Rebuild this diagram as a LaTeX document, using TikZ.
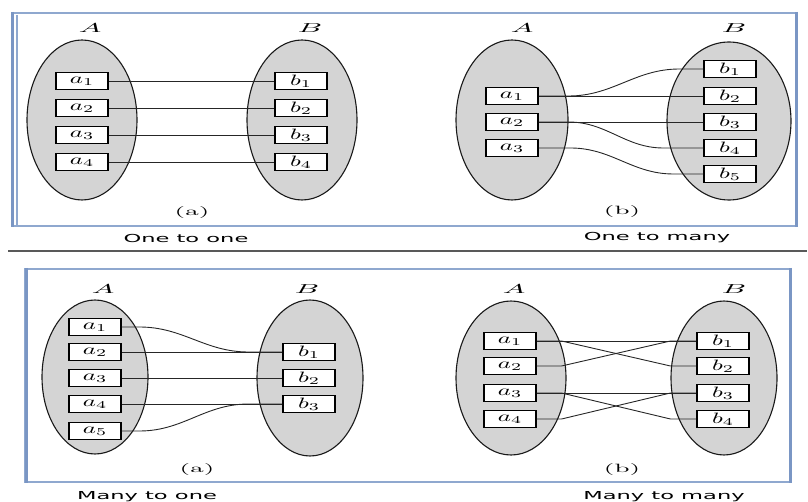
\documentclass[tikz,border=0pt]{standalone}
\usepackage{fontspec}
\newfontfamily\capfont{DejaVu Sans}
\usetikzlibrary{shapes.geometric,calc}
\definecolor{frameblue}{HTML}{8FA8CF}
\definecolor{framedark}{HTML}{7A96C4}
\definecolor{setgray}{HTML}{D4D4D4}
\newcommand{\elt}[1]{\scalebox{2.5}[1.5]{$#1$}}
\newcommand{\setlab}[1]{\scalebox{3.0}[1.3]{$#1$}}
\newcommand{\partlab}[1]{\scalebox{2.7}[1.2]{#1}}
\newcommand{\captxt}[1]{\capfont\fontsize{11}{12}\selectfont\scalebox{2.05}[1]{#1}}
\begin{document}
\begin{tikzpicture}[x=1pt,y=-1pt,
  setell/.style={ellipse, draw=black!90, fill=setgray, line width=1.1pt, inner sep=0pt},
  elem/.style={draw=black, fill=white, line width=1.1pt, minimum width=52pt, minimum height=17pt, inner sep=0pt},
  link/.style={draw=black!85, line width=0.9pt},
  lab/.style={inner sep=0pt},
  frame/.style={draw=frameblue, line width=1.6pt},
  sideband/.style={draw=framedark, line width=3pt},
  sep/.style={draw=black!65, line width=1.6pt}]
\useasboundingbox (0,0) rectangle (808,502);

% ---------- frames ----------
\draw[frame] (13,13) rectangle (797,226);
\draw[sideband] (12.5,12) -- (12.5,227);
\draw[draw=frameblue, line width=1.2pt] (17,15) -- (17,225);
\draw[sideband] (796,12) -- (796,227);
\draw[sep] (8,251) -- (807,251);
\draw[frame] (25,269) rectangle (791,482);
\draw[sideband] (26.5,268) -- (26.5,483);
\draw[sideband] (790,268) -- (790,483);

% ---------- panel 1: one to one ----------
\node[setell, minimum width=110pt, minimum height=160pt] (PA) at (82,120) {};
\node[setell, minimum width=110pt, minimum height=160pt] (PB) at (302,120) {};
\node[lab] (PAl) at (90,28) {\setlab{A}};
\node[lab] (PBl) at (310,28) {\setlab{B}};
\node[elem] (pa1) at (82,81) {\elt{a_1}};
\node[elem] (pa2) at (82,108) {\elt{a_2}};
\node[elem] (pa3) at (82,135) {\elt{a_3}};
\node[elem] (pa4) at (82,162) {\elt{a_4}};
\node[elem] (pb1) at (301,81) {\elt{b_1}};
\node[elem] (pb2) at (301,108) {\elt{b_2}};
\node[elem] (pb3) at (301,135) {\elt{b_3}};
\node[elem] (pb4) at (301,162) {\elt{b_4}};
\draw[link] (pa1.east) -- (pb1.west);
\draw[link] (pa2.east) -- (pb2.west);
\draw[link] (pa3.east) -- (pb3.west);
\draw[link] (pa4.east) -- (pb4.west);
\node[lab] (Pcap) at (192,213) {\partlab{(a)}};
\node[lab] (Ptxt) at (186,238) {\captxt{One to one}};

% ---------- panel 2: one to many ----------
\node[setell, minimum width=112pt, minimum height=160pt] (QA) at (512,120) {};
\node[setell, minimum width=124pt, minimum height=158pt] (QB) at (729,121) {};
\node[lab] (QAl) at (522,28) {\setlab{A}};
\node[lab] (QBl) at (734,28) {\setlab{B}};
\node[elem] (qa1) at (512,96) {\elt{a_1}};
\node[elem] (qa2) at (512,122) {\elt{a_2}};
\node[elem] (qa3) at (512,148) {\elt{a_3}};
\node[elem] (qb1) at (730,69) {\elt{b_1}};
\node[elem] (qb2) at (730,96) {\elt{b_2}};
\node[elem] (qb3) at (730,122) {\elt{b_3}};
\node[elem] (qb4) at (730,148) {\elt{b_4}};
\node[elem] (qb5) at (730,174) {\elt{b_5}};
\draw[link] (qa1.east) -- ++(30,0) to[out=0,in=180] ($(qb1.west)+(-24,0)$) -- (qb1.west);
\draw[link] (qa1.east) -- (qb2.west);
\draw[link] (qa2.east) -- (qb3.west);
\draw[link] (qa2.east) -- ++(30,0) to[out=0,in=180] ($(qb4.west)+(-40,0)$) -- (qb4.west);
\draw[link] (qa3.east) -- ++(32,0) to[out=0,in=180] ($(qb5.west)+(-30,0)$) -- (qb5.west);
\node[lab] (Qcap) at (622,212) {\partlab{(b)}};
\node[lab] (Qtxt) at (657,238) {\captxt{One to many}};

% ---------- panel 3: many to one ----------
\node[setell, minimum width=106pt, minimum height=154pt] (RA) at (95,377) {};
\node[setell, minimum width=106pt, minimum height=156pt] (RB) at (310,378) {};
\node[lab] (RAl) at (103,289) {\setlab{A}};
\node[lab] (RBl) at (307,289) {\setlab{B}};
\node[elem] (ra1) at (95,327) {\elt{a_1}};
\node[elem] (ra2) at (95,352) {\elt{a_2}};
\node[elem] (ra3) at (95,378) {\elt{a_3}};
\node[elem] (ra4) at (95,404) {\elt{a_4}};
\node[elem] (ra5) at (95,431) {\elt{a_5}};
\node[elem] (rb1) at (309,352) {\elt{b_1}};
\node[elem] (rb2) at (309,378) {\elt{b_2}};
\node[elem] (rb3) at (309,404) {\elt{b_3}};
\draw[link] (ra1.east) -- ++(18,0) to[out=0,in=180] ($(rb1.west)+(-34,0)$) -- (rb1.west);
\draw[link] (ra2.east) -- (rb1.west);
\draw[link] (ra3.east) -- (rb2.west);
\draw[link] (ra4.east) -- (rb3.west);
\draw[link] (ra5.east) -- ++(18,0) to[out=0,in=180] ($(rb3.west)+(-34,0)$) -- (rb3.west);
\node[lab] (Rcap) at (197,469) {\partlab{(a)}};
\node[lab] (Rtxt) at (147,497) {\captxt{Many to one}};

% ---------- panel 4: many to many ----------
\node[setell, minimum width=110pt, minimum height=154pt] (SA) at (511,378) {};
\node[setell, minimum width=106pt, minimum height=154pt] (SB) at (724,378) {};
\node[lab] (SAl) at (514,289) {\setlab{A}};
\node[lab] (SBl) at (734,289) {\setlab{B}};
\node[elem] (sa1) at (510,341) {\elt{a_1}};
\node[elem] (sa2) at (510,366) {\elt{a_2}};
\node[elem] (sa3) at (510,393) {\elt{a_3}};
\node[elem] (sa4) at (510,419) {\elt{a_4}};
\node[elem] (sb1) at (723,341) {\elt{b_1}};
\node[elem] (sb2) at (723,366) {\elt{b_2}};
\node[elem] (sb3) at (723,393) {\elt{b_3}};
\node[elem] (sb4) at (723,419) {\elt{b_4}};
\draw[link] (sa1.east) -- (sb1.west);
\draw[link] (sa1.east) -- ++(25,0) -- ($(sb2.west)+(-26,0)$) -- (sb2.west);
\draw[link] (sa2.east) -- ++(25,0) -- ($(sb1.west)+(-26,0)$) -- (sb1.west);
\draw[link] (sa3.east) -- (sb3.west);
\draw[link] (sa3.east) -- ++(25,0) -- ($(sb4.west)+(-26,0)$) -- (sb4.west);
\draw[link] (sa4.east) -- ++(25,0) -- ($(sb3.west)+(-26,0)$) -- (sb3.west);
\node[lab] (Scap) at (622,469) {\partlab{(b)}};
\node[lab] (Stxt) at (664,497) {\captxt{Many to many}};
\end{tikzpicture}
\end{document}
